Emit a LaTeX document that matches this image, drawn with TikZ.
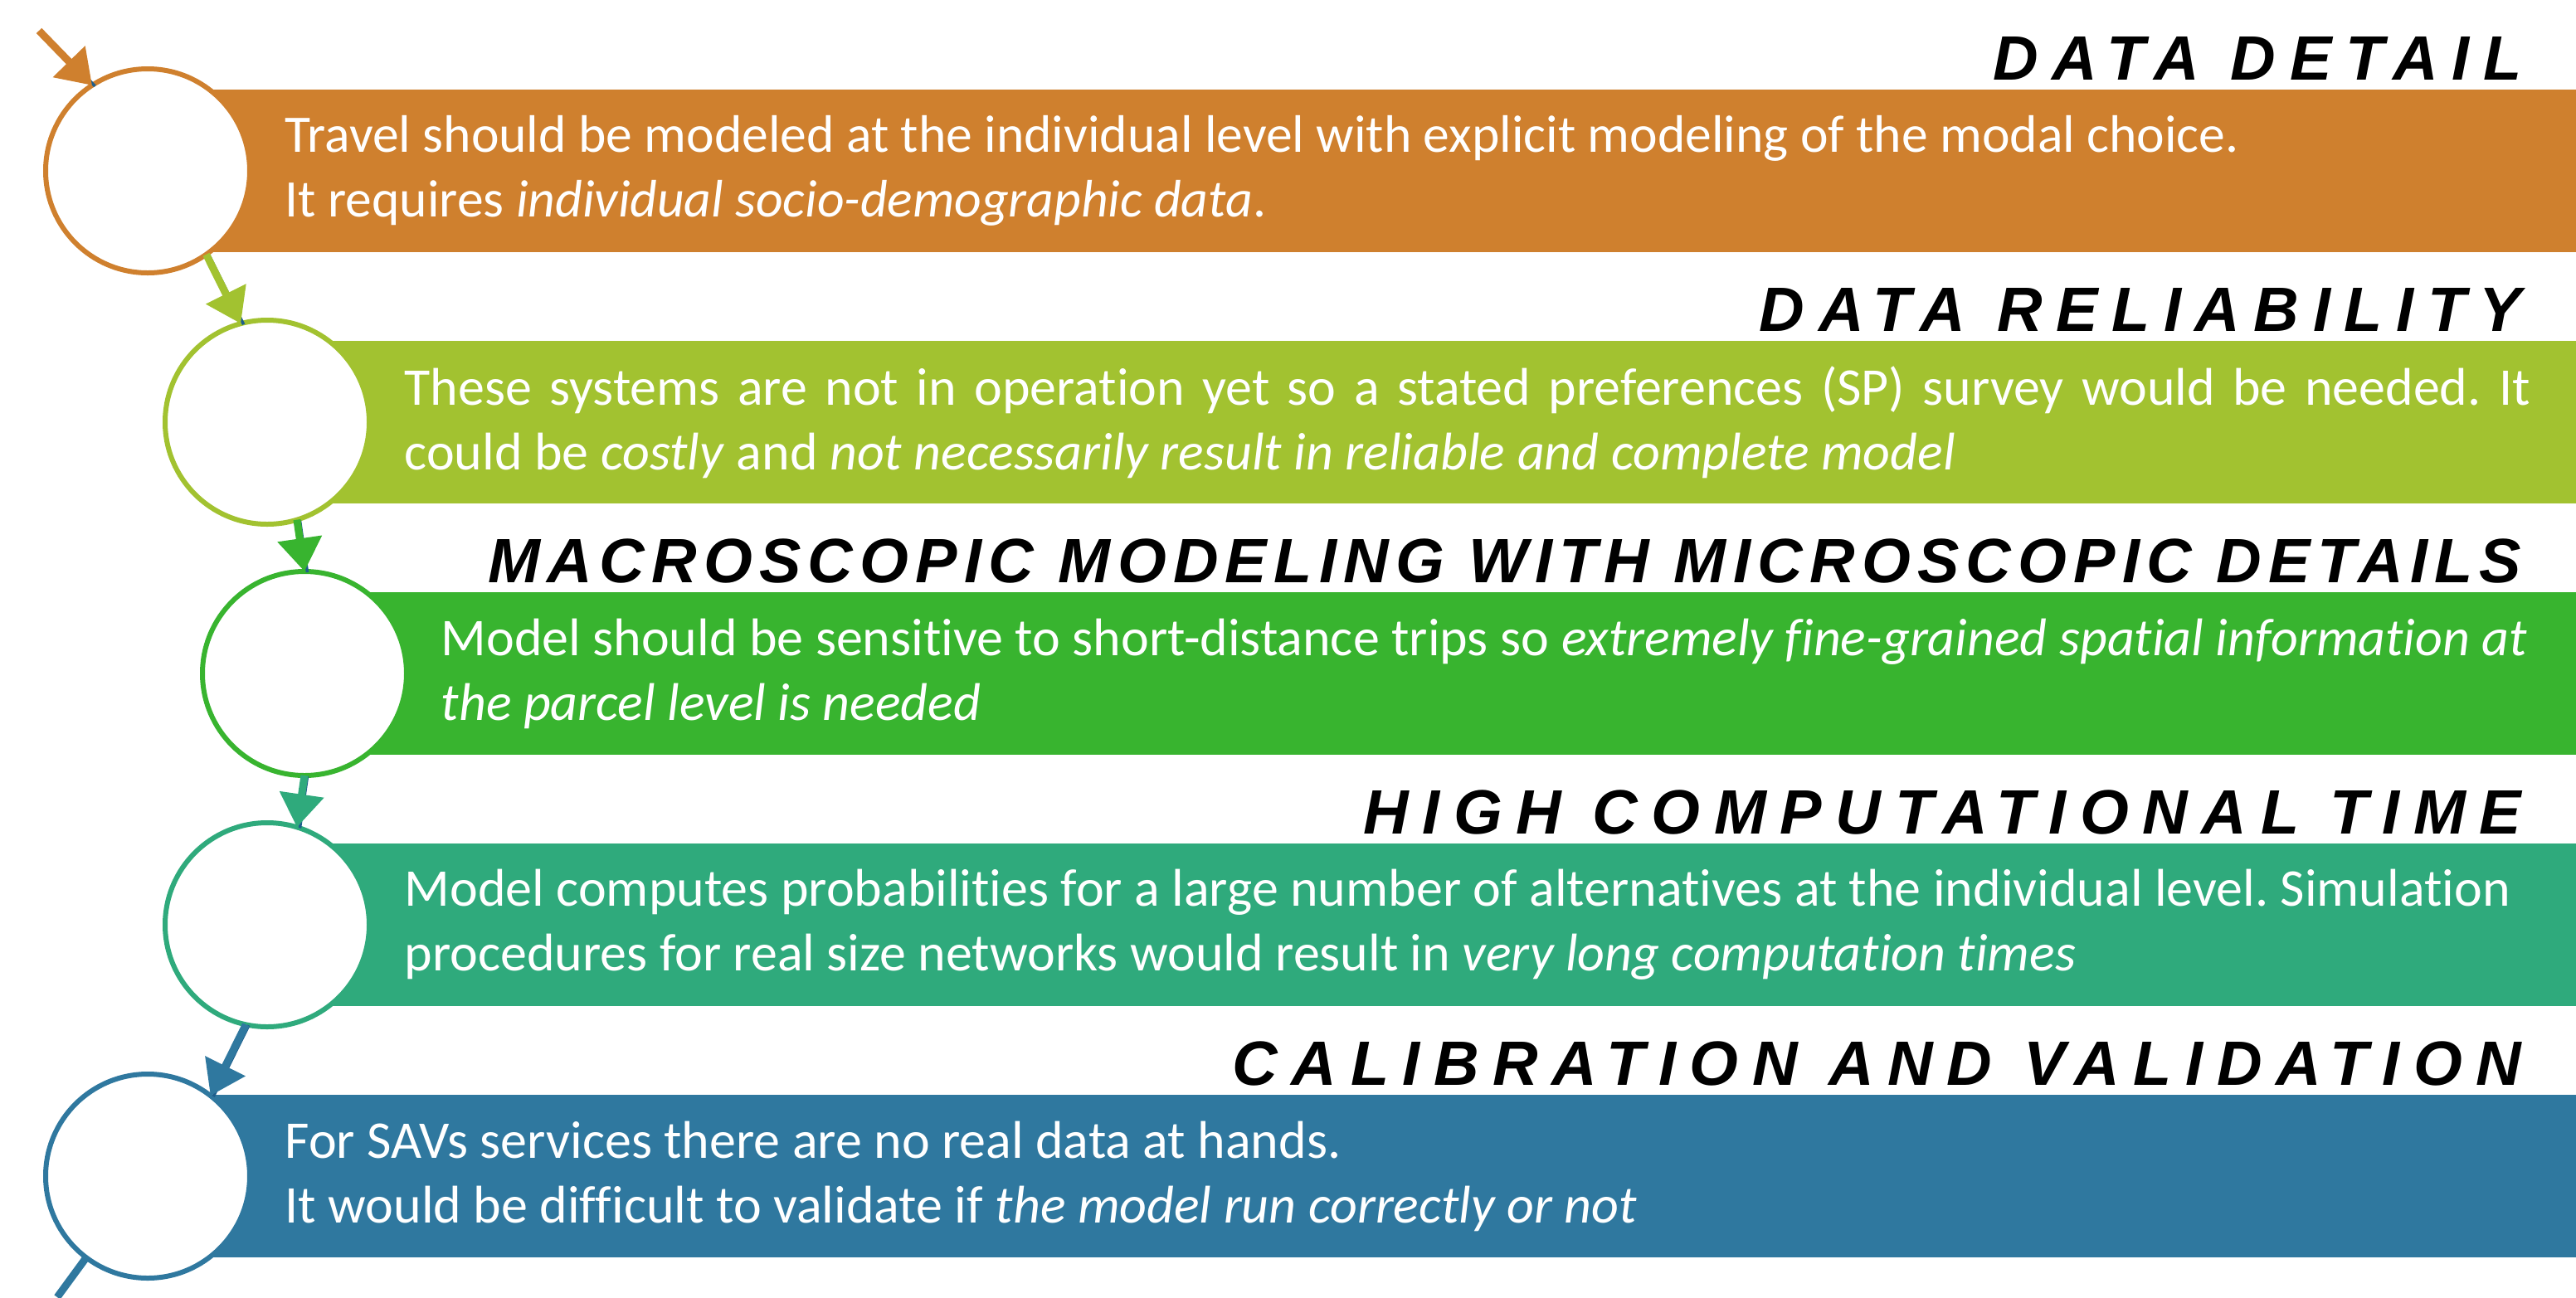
\documentclass[tikz,border=0pt]{standalone}
\usepackage{fontspec}
\setmainfont{Carlito}[Ligatures=NoCommon]
\newfontfamily\headfont{Liberation Sans}
\usetikzlibrary{arrows.meta}
\frenchspacing

\definecolor{stepOrange}{HTML}{CF802E}
\definecolor{stepLime}{HTML}{A2C230}
\definecolor{stepGreen}{HTML}{38B42F}
\definecolor{stepTeal}{HTML}{2FAA7C}
\definecolor{stepBlue}{HTML}{2F789F}
\definecolor{stepLine}{HTML}{1D5E8C}

\tikzset{
	ring/.style={circle, draw=#1, line width=0.6mm, fill=white, minimum size=2.46cm, inner sep=0pt, outer sep=0pt},
	band/.style={fill=#1, anchor=west, minimum height=1.96cm, inner sep=0pt, outer sep=0pt},
	head/.style={anchor=base east, inner sep=0pt, font=\headfont\bfseries\itshape\fontsize{21.5}{24}\selectfont},
	body/.style={anchor=west, align=left, text=white, inner sep=0pt, font=\fontsize{18.2}{22.2}\selectfont},
	link/.style={draw=#1, line width=0.9mm, -{Triangle[length=4mm,width=5.2mm]},
		preaction={draw=stepLine, line width=0.35mm, -, transform canvas={shift={(0.35mm,-0.1mm)}}}},
}

\begin{document}
\begin{tikzpicture}
	\useasboundingbox (0,0) rectangle (31.05,-15.64);

	% bands
	\node[band=stepOrange, minimum width=29.27cm] (b1) at (1.78,-2.06) {};
	\node[band=stepLime, minimum width=27.83cm] (b2) at (3.22,-5.09) {};
	\node[band=stepGreen, minimum width=27.38cm] (b3) at (3.67,-8.12) {};
	\node[band=stepTeal, minimum width=27.83cm] (b4) at (3.22,-11.15) {};
	\node[band=stepBlue, minimum width=29.27cm] (b5) at (1.78,-14.18) {};

	% rings
	\node[ring=stepOrange] (c1) at (1.78,-2.06) {};
	\node[ring=stepLime] (c2) at (3.22,-5.09) {};
	\node[ring=stepGreen] (c3) at (3.67,-8.12) {};
	\node[ring=stepTeal] (c4) at (3.22,-11.15) {};
	\node[ring=stepBlue] (c5) at (1.78,-14.18) {};

	% titles
	\node[head] (t1) at (30.40,-0.96) {\addfontfeature{LetterSpace=22}DATA DETAIL};
	\node[head] (t2) at (30.40,-3.99) {\addfontfeature{LetterSpace=22}DATA RELIABILITY};
	\node[head] (t3) at (30.40,-7.02) {\addfontfeature{LetterSpace=11}MACROSCOPIC MODELING WITH MICROSCOPIC DETAILS};
	\node[head] (t4) at (30.40,-10.05) {\addfontfeature{LetterSpace=22}HIGH COMPUTATIONAL TIME};
	\node[head] (t5) at (30.40,-13.08) {\addfontfeature{LetterSpace=22}CALIBRATION AND VALIDATION};

	% texts
	\node[body, font=\fontsize{18.1}{22.2}\selectfont] (d1) at (3.43,-2.06) {Travel should be modeled at the individual level with explicit modeling of the modal choice.\\It requires \textit{individual socio-demographic data}.};
	\node[body, align=justify, text width=25.62cm] (d2) at (4.87,-5.09) {These systems are not in operation yet so a stated preferences (SP) survey would be needed. It\linebreak could be \textit{costly} and \textit{not necessarily result in reliable and complete model}};
	\node[body] (d3) at (5.31,-8.12) {Model should be sensitive to short-distance trips so \textit{extremely fine-grained spatial information at}\\\textit{the parcel level is needed}};
	\node[body] (d4) at (4.87,-11.15) {Model computes probabilities for a large number of alternatives at the individual level. Simulation\\procedures for real size networks would result in \textit{very long computation times}};
	\node[body] (d5) at (3.43,-14.18) {For SAVs services there are no real data at hands.\\It would be difficult to validate if \textit{the model run correctly or not}};

	% links
	\coordinate (s0) at (0.47,-0.37);
	\coordinate (s6) at (0.69,-15.64);
	\draw[link=stepOrange] (s0) -- (c1.123);
	\draw[link=stepLime] (c1.-55) -- (c2.105);
	\draw[link=stepGreen] (c2.-73) -- (c3.90);
	\draw[link=stepTeal] (c3.-90) -- (c4.73);
	\draw[link=stepBlue] (c4.-102) -- (c5.52);
	\draw[stepBlue, line width=0.9mm] (c5.-127) -- (s6);
\end{tikzpicture}
\end{document}
